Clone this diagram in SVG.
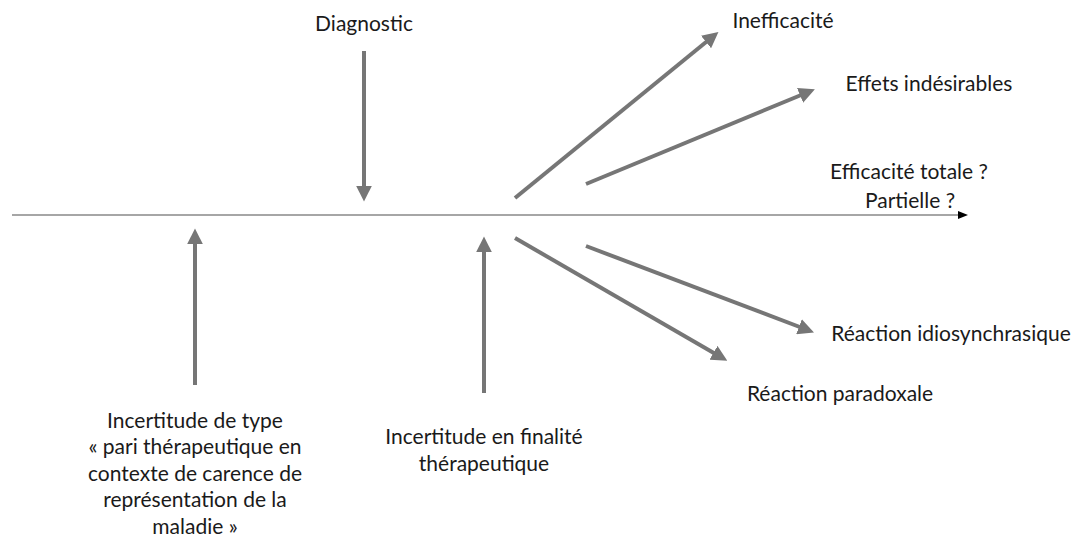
<svg xmlns="http://www.w3.org/2000/svg" width="1091" height="543" viewBox="0 0 1091 543">
<style>
text{font-family:"Lato","Open Sans","Liberation Sans",sans-serif;font-size:21px;fill:#1a1a1a;text-anchor:middle}
.a{stroke:#767676;stroke-width:4;fill:none;marker-end:url(#ah)}
.axis{stroke:#a6a6a6;stroke-width:2;fill:none;marker-end:url(#ax)}
</style>
<defs>
<marker id="ah" viewBox="0 0 10 10" refX="4" refY="5" markerWidth="4" markerHeight="4" orient="auto" markerUnits="strokeWidth">
<path d="M0,0 L10,5 L0,10 z" fill="#767676"/>
</marker>
<marker id="ax" viewBox="0 0 10 10" refX="2" refY="5" markerWidth="5" markerHeight="5" orient="auto" markerUnits="strokeWidth">
<path d="M0,1 L10,5 L0,9 z" fill="#000"/>
</marker>
</defs>
<rect width="1091" height="543" fill="#fff"/>
<g id="connectors">
<line class="axis" x1="12" y1="215" x2="960" y2="215"/>
<line class="a" x1="364" y1="51" x2="364" y2="192"/>
<line class="a" x1="195" y1="385" x2="195" y2="238"/>
<line class="a" x1="484" y1="393" x2="484" y2="246"/>
<line class="a" x1="515" y1="198" x2="711" y2="38"/>
<line class="a" x1="586" y1="184" x2="806" y2="93"/>
<line class="a" x1="515" y1="238" x2="719" y2="356"/>
<line class="a" x1="586" y1="246" x2="805" y2="329"/>
</g>
<g id="diagnostic"><text x="364" y="31">Diagnostic</text></g>
<g id="inefficacite"><text x="783" y="28">Inefficacité</text></g>
<g id="effets"><text x="929" y="91">Effets indésirables</text></g>
<g id="efficacite"><text x="909" y="179">Efficacité totale ?</text><text x="910" y="208">Partielle ?</text></g>
<g id="idiosync"><text x="951" y="341">Réaction idiosynchrasique</text></g>
<g id="paradoxale"><text x="840" y="401">Réaction paradoxale</text></g>
<g id="incertitude-type"><text x="195" y="428">Incertitude de type</text><text x="195" y="454">« pari thérapeutique en</text><text x="195" y="481">contexte de carence de</text><text x="195" y="507">représentation de la</text><text x="195" y="534">maladie »</text></g>
<g id="incertitude-finalite"><text x="484" y="444">Incertitude en finalité</text><text x="484" y="471">thérapeutique</text></g>
</svg>
